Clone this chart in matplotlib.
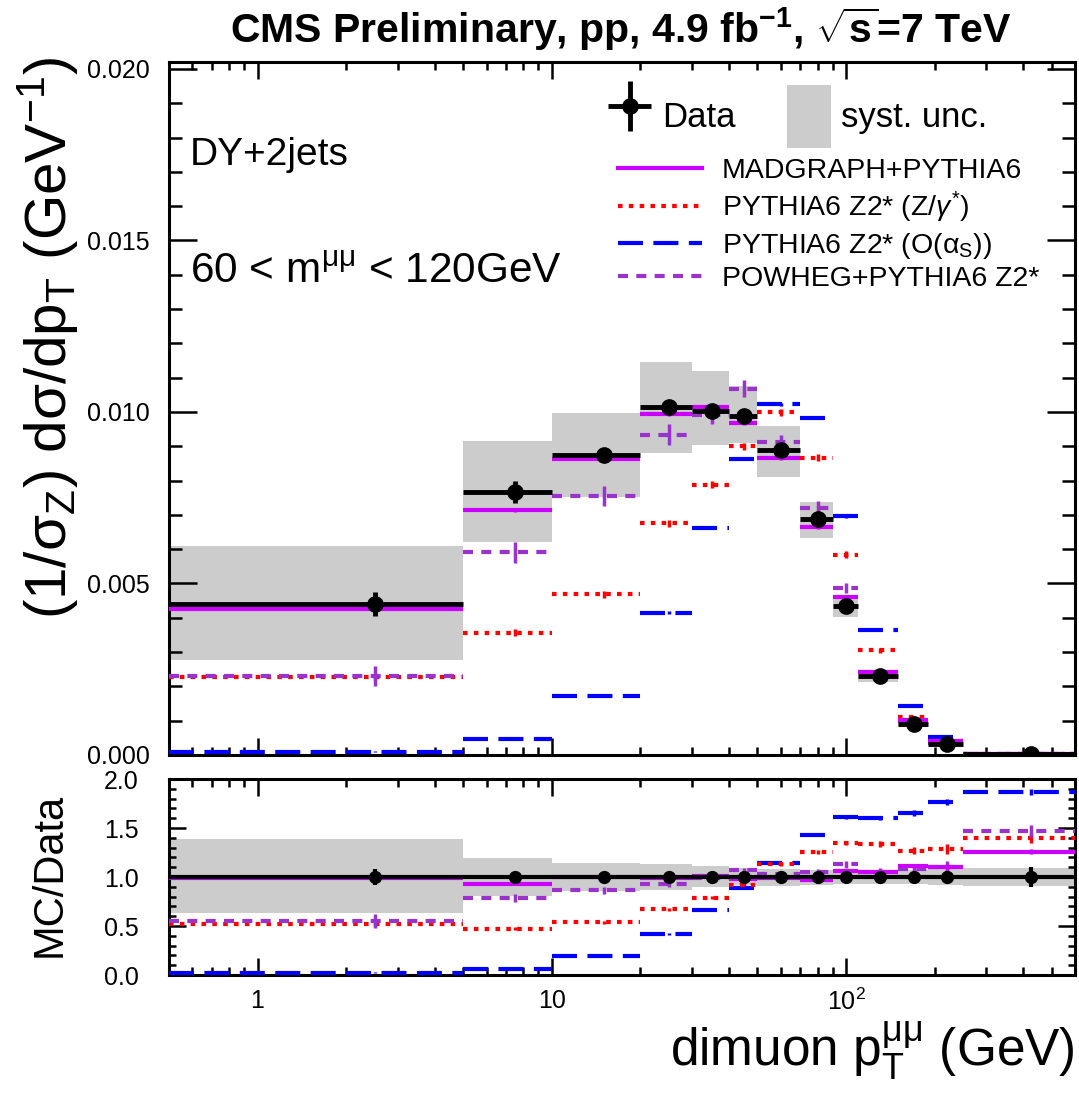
import numpy as np
import matplotlib
matplotlib.use("Agg")
import matplotlib.pyplot as plt
from matplotlib.lines import Line2D
from matplotlib.patches import Patch
from matplotlib.legend_handler import HandlerErrorbar
from matplotlib.ticker import FixedLocator, MultipleLocator, FuncFormatter, NullFormatter, LogLocator

plt.rcParams['font.family'] = ['Liberation Sans', 'DejaVu Sans']
plt.rcParams['mathtext.fontset'] = 'custom'
plt.rcParams['mathtext.rm'] = 'Liberation Sans'
plt.rcParams['mathtext.it'] = 'Liberation Sans:italic'
plt.rcParams['mathtext.bf'] = 'Liberation Sans:bold'
plt.rcParams['mathtext.sf'] = 'Liberation Sans'

# ---------------- data ----------------
bin_edges = np.array([0, 5, 10, 20, 30, 40, 50, 70, 90, 110, 150, 190, 250, 600], dtype=float)
bin_centers = np.array([2.5, 7.5, 15, 25, 35, 45, 60, 80, 100, 130, 170, 220, 425], dtype=float)

data_vals = np.array([0.00439, 0.00768, 0.00875, 0.01013, 0.01004, 0.00988, 0.00889,
                      0.00689, 0.00434, 0.00230, 0.00091, 0.00033, 0.00002])
data_err = np.array([0.00035, 0.00032, 0.00012, 0.00013, 0.00013, 0.00013, 0.00012,
                     0.00011, 0.00009, 0.00006, 0.00003, 0.00002, 0.000002])
syst_up = np.array([1.39, 1.19, 1.14, 1.13, 1.115, 1.09, 1.08, 1.07, 1.06, 1.07, 1.07, 1.08, 1.09])
syst_dn = np.array([0.63, 0.81, 0.86, 0.87, 0.90, 0.92, 0.91, 0.92, 0.93, 0.93, 0.93, 0.92, 0.91])

madgraph = np.array([0.00427, 0.00713, 0.00863, 0.00993, 0.01015, 0.00969, 0.00866,
                     0.00664, 0.00460, 0.00241, 0.00103, 0.00040, 0.00003])
madgraph_err = np.array([0.00004, 0.00006, 0.00006, 0.00006, 0.00006, 0.00006, 0.00005,
                         0.00005, 0.00004, 0.00003, 0.00002, 0.00001, 0.000005])
pythia_zg = np.array([0.00226, 0.00357, 0.00468, 0.00675, 0.00788, 0.00900, 0.00999,
                      0.00866, 0.00584, 0.00305, 0.00110, 0.00042, 0.00003])
pythia_zg_err = np.array([0.00008, 0.00010, 0.00010, 0.00010, 0.00010, 0.00010, 0.00010,
                          0.00010, 0.00010, 0.00008, 0.00005, 0.00003, 0.00001])
pythia_as = np.array([0.00010, 0.00048, 0.00171, 0.00415, 0.00662, 0.00864, 0.01022,
                      0.00983, 0.00696, 0.00364, 0.00144, 0.00052, 0.00004])
pythia_as_err = np.array([0.00002, 0.00002, 0.00003, 0.00004, 0.00004, 0.00005, 0.00005,
                          0.00005, 0.00004, 0.00003, 0.00002, 0.00001, 0.000005])
powheg = np.array([0.00230, 0.00591, 0.00755, 0.00934, 0.00990, 0.01068, 0.00913,
                   0.00721, 0.00487, 0.00242, 0.00098, 0.00036, 0.00003])
powheg_err = np.array([0.00030, 0.00030, 0.00030, 0.00030, 0.00025, 0.00025, 0.00020,
                       0.00020, 0.00015, 0.00010, 0.00005, 0.00003, 0.00001])

ratio_madgraph = np.array([0.99, 0.93, 1.00, 0.99, 1.01, 0.98, 0.99, 0.97, 1.06, 1.05, 1.11, 1.10, 1.26])
ratio_madgraph_err = np.array([0.01, 0.01, 0.01, 0.01, 0.01, 0.01, 0.01, 0.01, 0.01, 0.015, 0.02, 0.03, 0.03])
ratio_pythia_zg = np.array([0.52, 0.47, 0.54, 0.67, 0.79, 0.92, 1.13, 1.26, 1.35, 1.34, 1.27, 1.29, 1.40])
ratio_pythia_zg_err = np.array([0.02, 0.015, 0.015, 0.015, 0.015, 0.015, 0.015, 0.02, 0.02, 0.03, 0.04, 0.05, 0.05])
ratio_pythia_as = np.array([0.025, 0.065, 0.195, 0.415, 0.66, 0.885, 1.14, 1.43, 1.61, 1.60, 1.65, 1.77, 1.87])
ratio_pythia_as_err = np.array([0.005, 0.005, 0.01, 0.01, 0.01, 0.01, 0.01, 0.015, 0.015, 0.02, 0.03, 0.03, 0.03])
ratio_powheg = np.array([0.55, 0.785, 0.865, 0.925, 0.99, 1.07, 1.03, 1.05, 1.13, 1.05, 1.08, 1.10, 1.47])
ratio_powheg_err = np.array([0.07, 0.04, 0.035, 0.03, 0.025, 0.025, 0.025, 0.03, 0.035, 0.04, 0.05, 0.06, 0.06])

labels = ["MADGRAPH+PYTHIA6",
          r"PYTHIA6 Z2* (Z/$\gamma^{*}$)",
          r"PYTHIA6 Z2* (O($\mathrm{\alpha}_{\mathrm{S}}$))",
          "POWHEG+PYTHIA6 Z2*"]

# ---------------- style ----------------
XMIN, XMAX = 0.5, 600
C_MG = '#cc00ff'
C_ZG = '#ff0000'
C_AS = '#0000ff'
C_PW = '#9933cc'
C_SYST = '#cccccc'
LS_MG = '-'
LS_ZG = (0, (1.1, 1.5))
LS_AS = (0, (6, 2.5))
LS_PW = (0, (2.4, 2.0))
LW = 3.0

fig = plt.figure(figsize=(10.79, 10.98), dpi=100)
axm = fig.add_axes([0.1566, 0.3124, 0.8397, 0.6311])
axr = fig.add_axes([0.1566, 0.1120, 0.8397, 0.1785])

lo = np.clip(bin_edges[:-1], XMIN, XMAX)
hi = np.clip(bin_edges[1:], XMIN, XMAX)
draw_edges = np.clip(bin_edges, XMIN, XMAX)

def draw_mc(ax, vals, errs, color, ls):
    ax.hlines(vals, lo, hi, colors=color, linestyles=[ls], linewidth=LW, zorder=3)
    ax.errorbar(bin_centers, vals, yerr=errs, fmt='none', ecolor=color,
                elinewidth=2.5, capsize=0, zorder=3)

# main panel
axm.stairs(data_vals * syst_up, draw_edges, baseline=data_vals * syst_dn,
           fill=True, color=C_SYST, linewidth=0, zorder=1)
draw_mc(axm, pythia_as, pythia_as_err, C_AS, LS_AS)
draw_mc(axm, pythia_zg, pythia_zg_err, C_ZG, LS_ZG)
draw_mc(axm, powheg, powheg_err, C_PW, LS_PW)
draw_mc(axm, madgraph, madgraph_err, C_MG, LS_MG)
xerr_lo = bin_centers - lo
xerr_hi = hi - bin_centers
data_cont = axm.errorbar(bin_centers, data_vals, xerr=[xerr_lo, xerr_hi], yerr=data_err,
                         fmt='o', color='black', markersize=11, elinewidth=3.5,
                         capsize=0, zorder=5)

# ratio panel
axr.stairs(syst_up, draw_edges, baseline=syst_dn, fill=True, color=C_SYST,
           linewidth=0, zorder=1)
draw_mc(axr, ratio_pythia_as, ratio_pythia_as_err, C_AS, LS_AS)
draw_mc(axr, ratio_pythia_zg, ratio_pythia_zg_err, C_ZG, LS_ZG)
draw_mc(axr, ratio_powheg, ratio_powheg_err, C_PW, LS_PW)
draw_mc(axr, ratio_madgraph, ratio_madgraph_err, C_MG, LS_MG)
ones = np.ones_like(data_vals)
axr.errorbar(bin_centers, ones, xerr=[xerr_lo, xerr_hi], yerr=data_err / data_vals,
             fmt='o', color='black', markersize=8.5, elinewidth=3.0, capsize=0, zorder=5)

# axes formatting
for ax in (axm, axr):
    ax.set_xscale('log')
    ax.set_xlim(XMIN, XMAX)
    ax.xaxis.set_major_locator(FixedLocator([1, 10, 100]))
    ax.xaxis.set_minor_locator(LogLocator(base=10, subs=np.arange(2, 10) * 1.0, numticks=30))
    ax.xaxis.set_minor_formatter(NullFormatter())
    for s in ax.spines.values():
        s.set_linewidth(2.2)
    ax.tick_params(which='both', direction='in', top=True, right=True, width=1.8,
                   labelsize=18)

axm.set_ylim(0, 0.0202)
axm.yaxis.set_major_locator(MultipleLocator(0.005))
axm.yaxis.set_minor_locator(MultipleLocator(0.001))
axm.yaxis.set_major_formatter(FuncFormatter(lambda v, p: f"{v:.3f}"))
axm.tick_params(axis='x', which='major', length=12.5, labelbottom=False)
axm.tick_params(axis='x', which='minor', length=6)
axm.tick_params(axis='y', which='major', length=20, pad=14)
axm.tick_params(axis='y', which='minor', length=9.5)

axr.set_ylim(0, 2.0)
axr.yaxis.set_major_locator(MultipleLocator(0.5))
axr.yaxis.set_minor_locator(MultipleLocator(0.1))
axr.yaxis.set_major_formatter(FuncFormatter(lambda v, p: f"{v:.1f}"))
tick_names = {1: "1", 10: "10", 100: r"$10^{2}$"}
axr.xaxis.set_major_formatter(FuncFormatter(lambda v, p: tick_names.get(int(round(v)), "")))
axr.tick_params(axis='x', which='major', length=12, pad=10)
axr.tick_params(axis='x', which='minor', length=6)
axr.tick_params(axis='y', which='major', length=12, pad=22)
axr.tick_params(axis='y', which='minor', length=5)

# texts
fig.text(0.575, 0.973, r"CMS Preliminary, pp, 4.9 fb$^{\mathbf{-1}}$, $\sqrt{\mathbf{s}}$=7 TeV",
         ha='center', va='center', fontsize=29.5, fontweight='bold')
fig.text(0.044, 0.692, r"(1/σ$_{\mathrm{Z}}$) dσ/dp$_{\mathrm{T}}$ (GeV$^{\mathrm{-1}}$)",
         rotation=90, ha='center', va='center', fontsize=42)
fig.text(0.046, 0.203, "MC/Data", rotation=90, ha='center', va='center', fontsize=30)
fig.text(0.996, 1 - 1067 / 1098, r"dimuon p$_{\mathrm{T}}^{\mathrm{\mu\mu}}$ (GeV)",
         ha='right', va='baseline', fontsize=37)
fig.text(190 / 1079, 1 - 155 / 1098, "DY+2jets", ha='left', va='center', fontsize=28)
fig.text(190 / 1079, 1 - 272 / 1098, r"60 < m$^{\mathrm{\mu\mu}}$ < 120GeV", ha='left',
         va='center', fontsize=30.5)

# legends
syst_patch = Patch(facecolor=C_SYST, edgecolor='none')
leg1 = axm.legend([data_cont, syst_patch], ["Data", "syst. unc."], ncol=2,
                  loc='upper left', bbox_to_anchor=(608 / 1079, 1 - 85 / 1098),
                  bbox_transform=fig.transFigure, frameon=False, fontsize=25,
                  handlelength=1.25, handleheight=2.4, handletextpad=0.3,
                  columnspacing=1.5, borderpad=0, borderaxespad=0,
                  handler_map={data_cont: HandlerErrorbar(xerr_size=0.62, yerr_size=0.72)})
axm.add_artist(leg1)
proxies = [Line2D([], [], color=C_MG, linestyle=LS_MG, linewidth=LW),
           Line2D([], [], color=C_ZG, linestyle=LS_ZG, linewidth=LW),
           Line2D([], [], color=C_AS, linestyle=LS_AS, linewidth=LW),
           Line2D([], [], color=C_PW, linestyle=LS_PW, linewidth=LW)]
axm.legend(proxies, labels, loc='upper left', bbox_to_anchor=(618 / 1079, 1 - 158 / 1098),
           bbox_transform=fig.transFigure, frameon=False, fontsize=20.5,
           handlelength=2.95, handletextpad=0.7, labelspacing=0.2,
           borderpad=0, borderaxespad=0)

fig.savefig("out.png", dpi=100)
